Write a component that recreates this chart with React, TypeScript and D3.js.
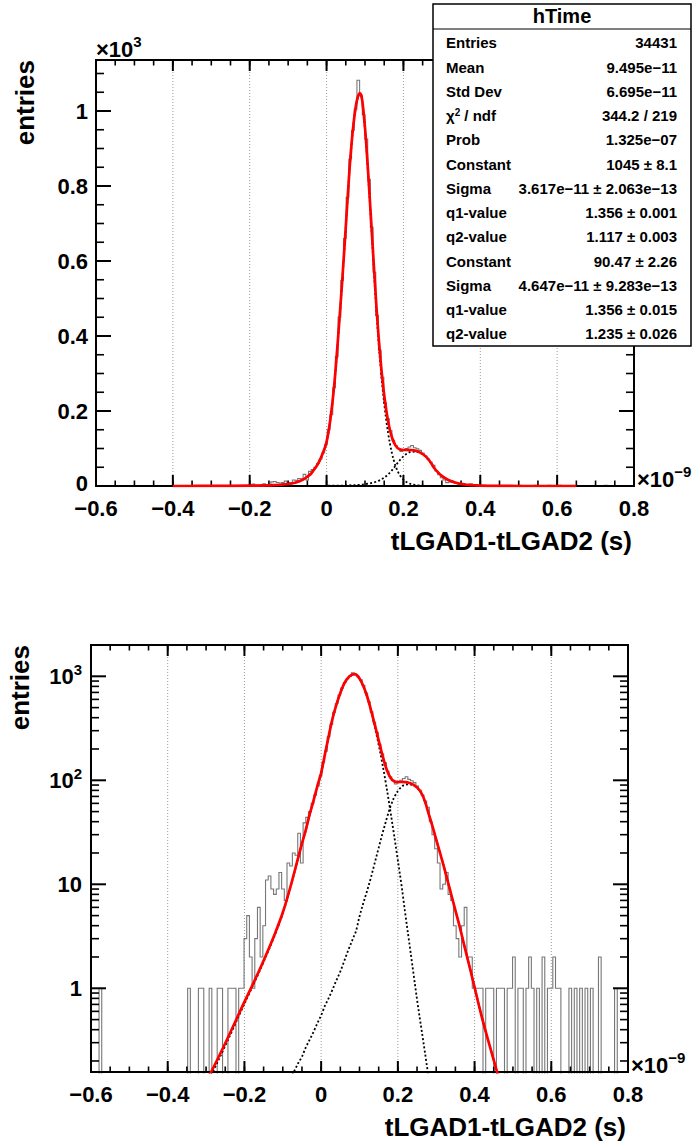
import React from "react";
import * as d3 from "d3";

// ---------------- data ----------------
const X_DOMAIN: [number, number] = [-0.6, 0.8]; // x10^-9 s

// histogram "hTime": 200 bins from -0.6 to 0.8 (x1e-9 s)
const HIST_COUNTS: number[] = [
  0, 0, 0, 1, 0, 0, 0, 0, 0, 0,
  0, 0, 0, 0, 0, 0, 0, 0, 0, 0,
  0, 0, 0, 0, 0, 0, 0, 0, 0, 0,
  0, 0, 0, 0, 0, 0, 1, 0, 0, 0,
  1, 1, 0, 0, 1, 0, 0, 1, 1, 0,
  0, 1, 1, 1, 0, 1, 1, 3, 5, 2,
  1, 3, 6, 2, 4, 11, 12, 9, 8, 9,
  13, 9, 7, 16, 15, 20, 19, 31, 16, 39,
  44, 50, 60, 72, 88, 110, 150, 190, 262, 345,
  450, 548, 660, 770, 872, 948, 1005, 1082, 1040, 990,
  925, 818, 690, 570, 455, 362, 290, 222, 180, 148,
  122, 108, 100, 92, 96, 100, 104, 108, 102, 99,
  95, 88, 80, 72, 63, 55, 40, 30, 22, 16,
  9, 10, 13, 8, 7, 4, 3, 2, 4, 6,
  2, 2, 1, 1, 1, 1, 0, 1, 1, 1,
  0, 1, 1, 1, 0, 1, 1, 2, 0, 1,
  1, 0, 1, 2, 1, 0, 1, 0, 2, 0,
  1, 1, 2, 1, 1, 0, 0, 0, 1, 0,
  1, 0, 1, 0, 1, 0, 1, 0, 0, 2,
  0, 0, 0, 0, 0, 1, 0, 0, 0, 0,
];

// fit curve samples
const FIT_X: number[] = [
  -0.4, -0.35, -0.3, -0.25, -0.2, -0.18, -0.16, -0.14, -0.12, -0.1, -0.08, -0.06,
  -0.05, -0.04, -0.03, -0.02, -0.01, 0.0, 0.01, 0.02, 0.03, 0.04, 0.05, 0.06, 0.07, 0.08,
  0.086, 0.09,
  0.1, 0.11, 0.12, 0.13, 0.14, 0.15, 0.16, 0.17, 0.18, 0.19, 0.2, 0.21, 0.22, 0.23, 0.24,
  0.25, 0.26, 0.27, 0.28, 0.29, 0.3, 0.31, 0.32, 0.33, 0.34, 0.35, 0.36, 0.37, 0.38, 0.39, 0.4,
  0.42, 0.44, 0.46, 0.48, 0.5, 0.55, 0.6, 0.65,
];
const FIT_TOTAL: number[] = [
  0.0275, 0.0605, 0.126, 0.296, 0.739, 1.056, 1.526, 2.25, 3.39, 5.35, 9.47, 18.0,
  24.7, 33.4, 47.1, 63.5, 87.6, 117.6, 178.7, 269.8, 396, 536, 691, 849, 965, 1033,
  1048, 1043,
  955, 807, 639, 474, 341, 242, 173, 130, 107, 98, 96, 96.5, 96, 94.2, 91,
  85.3, 76.9, 63.8, 48.1, 36.4, 26.9, 20.0, 14.8, 10.7, 7.76, 5.62, 4.07, 2.88, 2.04, 1.45, 1.02,
  0.51, 0.275, 0.151, 0.083, 0.047, 0.012, 0.0035, 0.0011,
];
const FIT_PEAK1: number[] = [
  0.024, 0.055, 0.117, 0.28, 0.71, 1.02, 1.48, 2.19, 3.31, 5.25, 9.33, 17.8,
  24.5, 33.1, 46.8, 63.1, 87.1, 117, 178, 269, 395, 535, 690, 847, 963, 1030,
  1045, 1040,
  950, 800, 630, 462, 325, 220, 142, 88, 52, 30, 17, 9.5, 5.0, 2.7, 1.45,
  0.78, 0.44, 0.25, 0.14, 0.078, 0.044, 0.025, 0.014, 0.008, 0.0046, 0.0027, 0.0016, 0.00095, 0.00057, 0.00034, 0.0002,
  0.00008, 0.00003, 0.000012, 0.000005, 0.000002, 0.0000003, 0.00000005, 0.00000001,
];
const FIT_PEAK2: number[] = [
  0.0035, 0.0055, 0.009, 0.016, 0.029, 0.036, 0.046, 0.06, 0.077, 0.1, 0.135, 0.19,
  0.22, 0.27, 0.32, 0.38, 0.46, 0.55, 0.68, 0.81, 0.98, 1.2, 1.45, 1.82, 2.29, 2.82,
  3.2, 3.47,
  4.9, 6.6, 8.7, 11.7, 16.2, 22.4, 30.9, 41.7, 55, 68, 79, 87, 91, 91.5, 89.5,
  84.5, 76.5, 63.5, 48, 36.3, 26.9, 20.0, 14.8, 10.7, 7.76, 5.62, 4.07, 2.88, 2.04, 1.45, 1.02,
  0.51, 0.275, 0.151, 0.083, 0.047, 0.012, 0.0035, 0.0011,
];

const X_TICKS = [-0.6, -0.4, -0.2, 0, 0.2, 0.4, 0.6, 0.8];
const X_TICK_LABELS = ["\u22120.6", "\u22120.4", "\u22120.2", "0", "0.2", "0.4", "0.6", "0.8"];
const X_GRID = [-0.4, -0.2, 0, 0.2, 0.4, 0.6];
const LIN_Y_TICKS = [0, 200, 400, 600, 800, 1000];
const LIN_Y_LABELS = ["0", "0.2", "0.4", "0.6", "0.8", "1"];
const LOG_Y_TICKS = [1, 10, 100, 1000];
const LOG_Y_LABELS: [string, string][] = [["1", ""], ["10", ""], ["10", "2"], ["10", "3"]];
const X_TITLE = "tLGAD1-tLGAD2 (s)";
const Y_TITLE = "entries";

const STAT_TITLE = "hTime";
const STAT_LABELS = [
  "Entries", "Mean", "Std Dev", "CHI2", "Prob", "Constant", "Sigma", "q1-value", "q2-value",
  "Constant", "Sigma", "q1-value", "q2-value",
];
const STAT_VALUES = [
  "34431", "9.495e\u221211", "6.695e\u221211", "344.2 / 219", "1.325e\u221207",
  "1045 \u00b1 8.1", "3.617e\u221211 \u00b1 2.063e\u221213", "1.356 \u00b1 0.001", "1.117 \u00b1 0.003",
  "90.47 \u00b1 2.26", "4.647e\u221211 \u00b1 9.283e\u221213", "1.356 \u00b1 0.015", "1.235 \u00b1 0.026",
];

// ---------------- drawing ----------------
const FONT = "'Liberation Sans', Arial, Helvetica, sans-serif";
const LABEL_SIZE = 22;
const TITLE_SIZE = 26;

type Frame = { x0: number; x1: number; y0: number; y1: number };

function Panel({ id, frame, log }: { id: string; frame: Frame; log: boolean }) {
  const { x0, x1, y0, y1 } = frame;
  const x = d3.scaleLinear().domain(X_DOMAIN).range([x0, x1]);
  const yLin = d3.scaleLinear().domain([0, 1136]).range([y1, y0]);
  const yLog = d3.scaleLog().domain([0.1567, 2000]).range([y1, y0]);
  const y = (v: number) => (log ? (v > 0 ? yLog(v) : y1 + 30) : yLin(v));

  const bin = d3.scaleLinear().domain([0, HIST_COUNTS.length]).range(X_DOMAIN);
  let hist = `M${x(bin(0))},${y(HIST_COUNTS[0])}`;
  HIST_COUNTS.forEach((c, i) => {
    hist += `V${y(c)}H${x(bin(i + 1))}`;
  });

  const line = d3
    .line<number>()
    .x((_, i) => x(FIT_X[i]))
    .y((v) => y(v))
    .curve(d3.curveMonotoneX);

  const xMinor = d3.range(0, 29).map((k) => -0.6 + k * 0.05);
  const yMinor: number[] = log
    ? d3.range(-1, 4).flatMap((n) => d3.range(2, 10).map((k) => k * Math.pow(10, n))).filter((v) => v > 0.1567 && v < 2000)
    : d3.range(0, 23).map((k) => k * 50).filter((v) => v < 1136);
  const yMajor = log ? LOG_Y_TICKS : LIN_Y_TICKS;

  const XM = 11, XN = 5.5, YM = 15, YN = 8;
  const clip = `${id}-clip`;

  return (
    <g>
      <defs>
        <clipPath id={clip}>
          <rect x={x0} y={y0} width={x1 - x0} height={y1 - y0 + 1.5} />
        </clipPath>
      </defs>
      {X_GRID.map((g) => (
        <line key={g} x1={x(g)} x2={x(g)} y1={y0} y2={y1} stroke="#9a9a9a" strokeWidth={1} strokeDasharray="1,2" />
      ))}
      <g clipPath={`url(#${clip})`}>
        <path d={hist} fill="none" stroke="#777" strokeWidth={1.1} />
        <path d={line(FIT_PEAK1) || ""} fill="none" stroke="#000" strokeWidth={1.8} strokeDasharray="2,2.2" />
        <path d={line(FIT_PEAK2) || ""} fill="none" stroke="#000" strokeWidth={1.8} strokeDasharray="2,2.2" />
      </g>
      {/* frame */}
      <rect x={x0} y={y0} width={x1 - x0} height={y1 - y0} fill="none" stroke="#000" strokeWidth={2} />
      {/* x ticks */}
      {X_TICKS.map((t) => (
        <g key={t}>
          <line x1={x(t)} x2={x(t)} y1={y1} y2={y1 - XM} stroke="#000" strokeWidth={2} />
          <line x1={x(t)} x2={x(t)} y1={y0} y2={y0 + XM} stroke="#000" strokeWidth={2} />
        </g>
      ))}
      {xMinor.map((t, i) => (
        <g key={i}>
          <line x1={x(t)} x2={x(t)} y1={y1} y2={y1 - XN} stroke="#000" strokeWidth={1.6} />
          <line x1={x(t)} x2={x(t)} y1={y0} y2={y0 + XN} stroke="#000" strokeWidth={1.6} />
        </g>
      ))}
      {/* y ticks */}
      {yMajor.map((t) => (
        <g key={t}>
          <line x1={x0} x2={x0 + YM} y1={y(t)} y2={y(t)} stroke="#000" strokeWidth={2} />
          <line x1={x1} x2={x1 - YM} y1={y(t)} y2={y(t)} stroke="#000" strokeWidth={2} />
        </g>
      ))}
      {yMinor.map((t, i) => (
        <g key={i}>
          <line x1={x0} x2={x0 + YN} y1={y(t)} y2={y(t)} stroke="#000" strokeWidth={1.6} />
          <line x1={x1} x2={x1 - YN} y1={y(t)} y2={y(t)} stroke="#000" strokeWidth={1.6} />
        </g>
      ))}
      {/* red total fit on top */}
      <g clipPath={`url(#${clip})`}>
        <path d={line(FIT_TOTAL) || ""} fill="none" stroke="#ff0000" strokeWidth={2.7} />
      </g>
      {/* labels */}
      <g fontFamily={FONT} fontWeight="bold" fill="#000">
        {X_TICKS.map((t, i) => (
          <text key={t} x={x(t)} y={y1 + 30} fontSize={LABEL_SIZE} textAnchor="middle">
            {X_TICK_LABELS[i]}
          </text>
        ))}
        {log
          ? LOG_Y_TICKS.map((t, i) => (
              <text key={t} x={x0 - 9} y={y(t) + 8} fontSize={LABEL_SIZE} textAnchor="end">
                {LOG_Y_LABELS[i][0]}
                {LOG_Y_LABELS[i][1] ? (
                  <tspan dy={-9} fontSize={15}>
                    {LOG_Y_LABELS[i][1]}
                  </tspan>
                ) : null}
              </text>
            ))
          : LIN_Y_TICKS.map((t, i) => (
              <text key={t} x={x0 - 8} y={y(t) + (t === 0 ? 5 : 8)} fontSize={LABEL_SIZE} textAnchor="end">
                {LIN_Y_LABELS[i]}
              </text>
            ))}
        <text x={x1 - 2} y={y1 + 64} fontSize={TITLE_SIZE} textAnchor="end">
          {X_TITLE}
        </text>
        <text transform={`translate(${x0 - 62},${y0}) rotate(-90)`} fontSize={TITLE_SIZE} textAnchor="end">
          {Y_TITLE}
        </text>
        <text x={x1 + 3} y={y1 + 1} fontSize={LABEL_SIZE}>
          {"\u00d710"}
          <tspan dy={-10} fontSize={15}>
            {"\u22129"}
          </tspan>
        </text>
        {!log ? (
          <text x={x0} y={y0 - 3} fontSize={LABEL_SIZE}>
            {"\u00d710"}
            <tspan dy={-10} fontSize={15}>
              3
            </tspan>
          </text>
        ) : null}
      </g>
    </g>
  );
}

function StatBox() {
  const bx = 433, by = 4, bw = 258, bh = 342;
  const titleH = 25;
  const row0 = 43.3, rowH = 24.25;
  return (
    <g fontFamily={FONT} fontWeight="bold">
      <rect x={bx} y={by} width={bw} height={bh} fill="#fff" stroke="#000" strokeWidth={1.5} />
      <line x1={bx} x2={bx + bw} y1={by + titleH} y2={by + titleH} stroke="#000" strokeWidth={1.2} />
      <text x={bx + bw / 2} y={by + 19} fontSize={20} textAnchor="middle">
        {STAT_TITLE}
      </text>
      {STAT_LABELS.map((l, i) => (
        <g key={i}>
          <text x={bx + 13} y={row0 + i * rowH + 5} fontSize={15}>
            {l === "CHI2" ? (
              <>
                {"\u03c7"}
                <tspan dy={-5} fontSize={10}>2</tspan>
                <tspan dy={5}>{" / ndf"}</tspan>
              </>
            ) : (
              l
            )}
          </text>
          <text x={bx + bw - 14} y={row0 + i * rowH + 5} fontSize={15} textAnchor="end">
            {STAT_VALUES[i]}
          </text>
        </g>
      ))}
    </g>
  );
}

export default function App() {
  const topFrame: Frame = { x0: 96, x1: 634, y0: 60, y1: 486 };
  const bottomFrame: Frame = { x0: 91, x1: 628, y0: 645, y1: 1072 };
  return (
    <svg
      width={693}
      height={1142}
      viewBox="0 0 693 1142"
      style={{ position: "absolute", left: 0, top: 0, display: "block", background: "#fff" }}
    >
      <rect x={0} y={0} width={693} height={1142} fill="#fff" />
      <Panel id="lin" frame={topFrame} log={false} />
      <StatBox />
      <Panel id="log" frame={bottomFrame} log={true} />
    </svg>
  );
}
